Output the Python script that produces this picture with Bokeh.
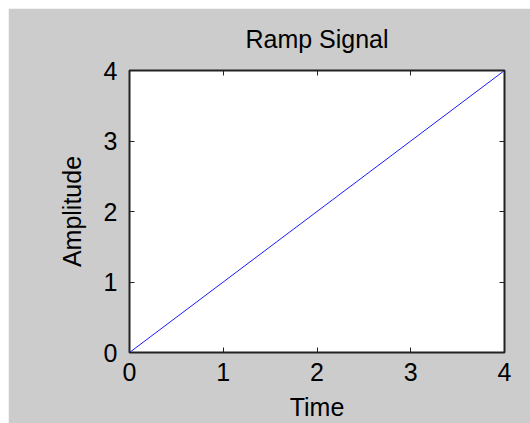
from bokeh.plotting import figure
from bokeh.models import LinearAxis, Range1d, FixedTicker, CustomJSTickFormatter
from bokeh.embed import file_html
from bokeh.resources import INLINE

time = [0, 1, 2, 3, 4]
amplitude = [0, 1, 2, 3, 4]
x_ticks = [0, 1, 2, 3, 4]
y_ticks = [0, 1, 2, 3, 4]

FONT = "Liberation Sans"
FS = "25px"

p = figure(width=522, height=415, output_backend="svg", toolbar_location=None,
           x_range=Range1d(0, 4), y_range=Range1d(0, 4),
           title="Ramp Signal", x_axis_label="Time", y_axis_label="Amplitude",
           min_border_left=121, min_border_right=26, min_border_top=62,
           min_border_bottom=71, margin=(8, 0, 0, 8))

p.background_fill_color = "white"
p.border_fill_color = "#cccccc"
p.outline_line_color = "#222222"
p.outline_line_width = 2
p.grid.visible = False

p.title.text_font = FONT
p.title.text_font_size = FS
p.title.text_font_style = "normal"
p.title.text_color = "black"
p.title.align = "center"
p.title.vertical_align = "top"
p.title.standoff = 32

p.line(time, amplitude, line_color="#1a1aff", line_width=1)

bottom_axis = p.below[0]
left_axis = p.left[0]
bottom_axis.ticker = FixedTicker(ticks=x_ticks)
left_axis.ticker = FixedTicker(ticks=y_ticks)

right = LinearAxis(ticker=FixedTicker(ticks=y_ticks),
                   formatter=CustomJSTickFormatter(code="return ''"))
top = LinearAxis(ticker=FixedTicker(ticks=x_ticks),
                 formatter=CustomJSTickFormatter(code="return ''"))
p.add_layout(right, "right")
p.add_layout(top, "above")

for ax in (bottom_axis, left_axis, right, top):
    ax.major_tick_in = 5
    ax.major_tick_out = 0
    ax.minor_tick_in = 0
    ax.minor_tick_out = 0
    ax.axis_line_color = "#222222"
    ax.axis_line_width = 1
    ax.major_tick_line_color = "#222222"
    ax.major_tick_line_width = 1
    ax.major_label_text_font = FONT
    ax.major_label_text_font_size = FS
    ax.major_label_text_color = "black"
    ax.axis_label_text_font = FONT
    ax.axis_label_text_font_size = FS
    ax.axis_label_text_font_style = "normal"
    ax.axis_label_text_color = "black"

for ax in (right, top):
    ax.major_label_text_font_size = "0px"
    ax.major_label_standoff = 0
    ax.axis_label_standoff = 0

bottom_axis.major_label_standoff = 10
bottom_axis.axis_label_standoff = 9
left_axis.major_label_standoff = 12
left_axis.axis_label_standoff = 15

open("out.html", "w").write(file_html(p, INLINE))
